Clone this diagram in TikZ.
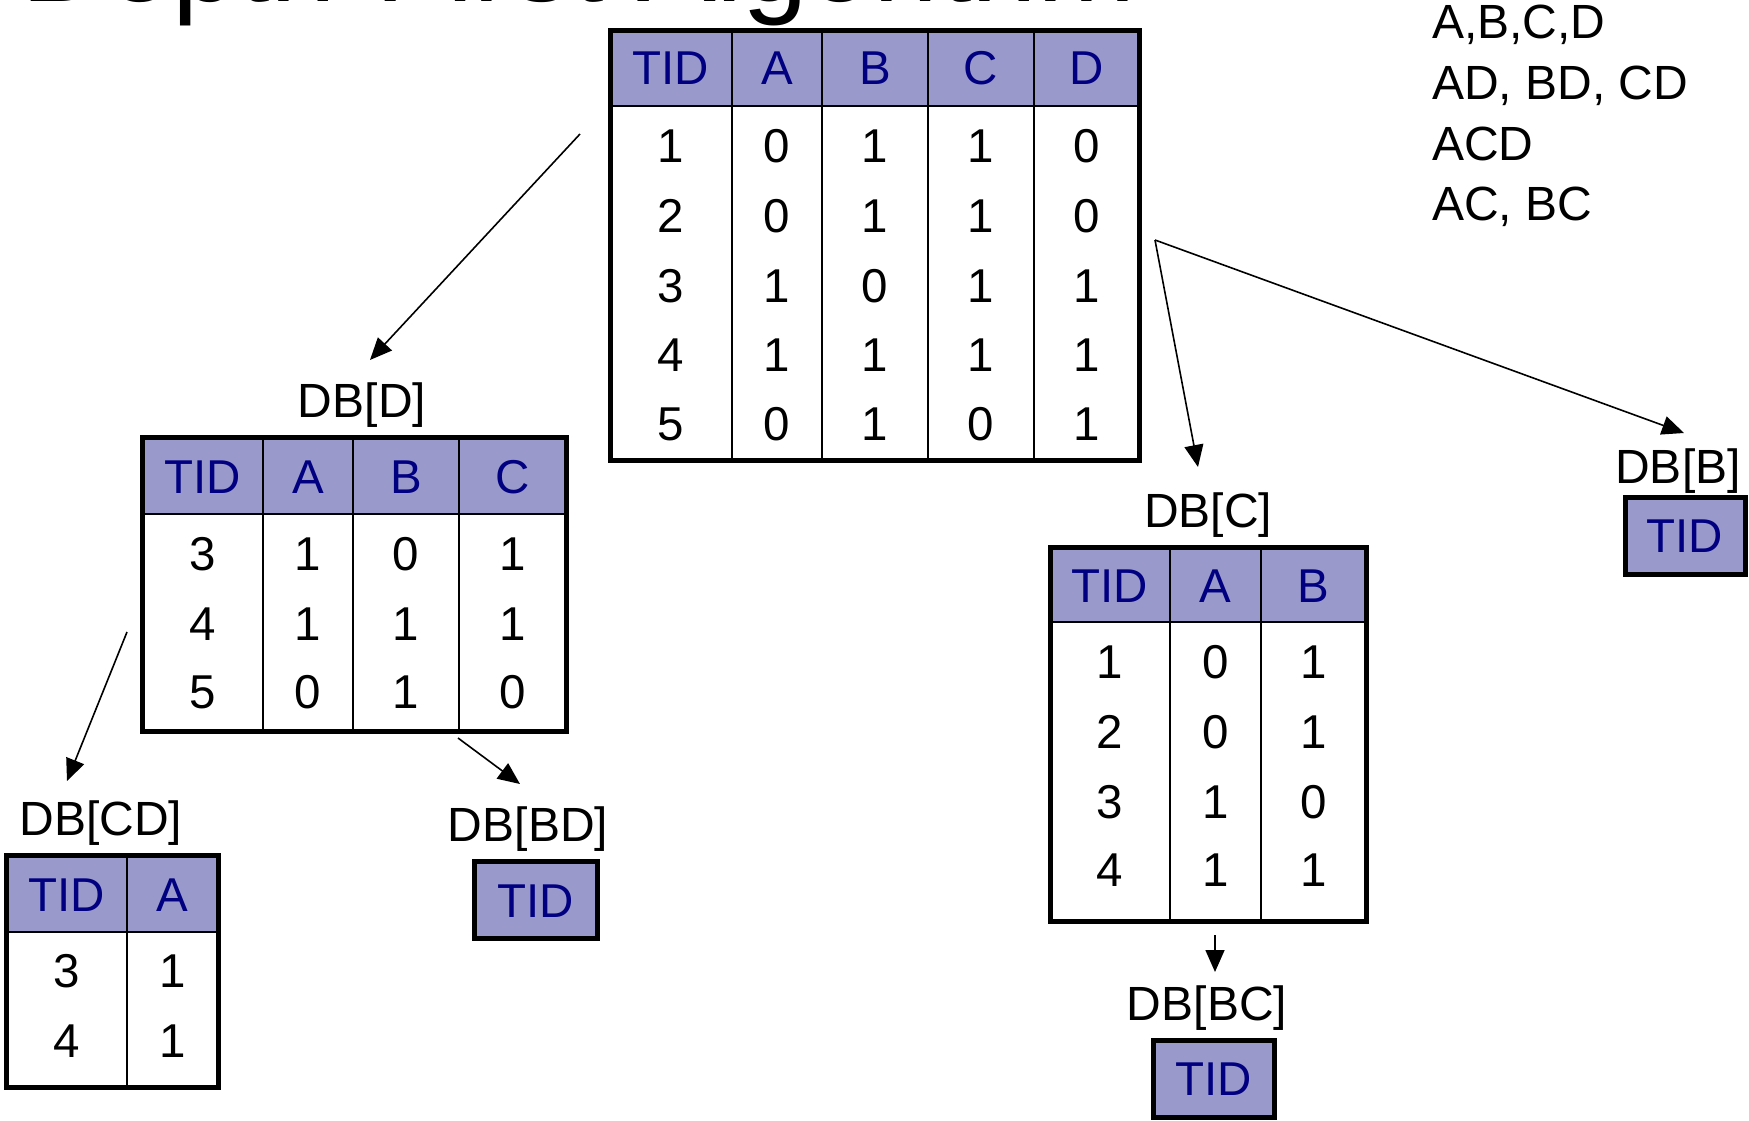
\documentclass[tikz,border=0pt]{standalone}
\usepackage{fontspec}
\setmainfont{Liberation Sans}
\usetikzlibrary{arrows.meta}
\definecolor{hdrfill}{RGB}{153,153,204}
\definecolor{hdrtext}{RGB}{0,0,128}
\newcommand{\cellfont}{\fontsize{47.5}{56}\selectfont}
\newcommand{\lblfont}{\fontsize{48}{57}\selectfont}
\newcommand{\titlefont}{\fontsize{118}{135}\selectfont}
\tikzset{
  outerframe/.style={draw=black, line width=5pt, inner sep=0pt, outer sep=0pt},
  tidbox/.style={draw=black, fill=hdrfill, line width=5pt, inner sep=0pt, outer sep=0pt},
  innerline/.style={line width=1.8pt},
  sepline/.style={line width=2.7pt},
  cell/.style={anchor=base, font=\cellfont, text=black, inner sep=0pt},
  hcell/.style={anchor=base, font=\cellfont, text=hdrtext, inner sep=0pt},
  lbl/.style={anchor=base, font=\lblfont, text=black, inner sep=0pt},
  itemtext/.style={anchor=base west, font=\lblfont, text=black, inner sep=0pt},
  arr/.style={-{Triangle[length=22pt,width=19pt]}, line width=1.6pt},
}
\begin{document}
\begin{tikzpicture}[x=1pt,y=-1pt]
\useasboundingbox (0,0) rectangle (1749,1120);
\clip (0,0) rectangle (1749,1120);

% title (cut off at the top, as in the reference)
\node[anchor=base west, font=\titlefont, inner sep=0pt] (title) at (21,1) {Depth-First Algorithm};

% itemsets list
\node[itemtext] (l1) at (1432,38) {A,B,C,D};
\node[itemtext] (l2) at (1432,99) {AD, BD, CD};
\node[itemtext] (l3) at (1432,160) {ACD};
\node[itemtext] (l4) at (1432,220) {AC, BC};

% ---------- main table ----------
\fill[hdrfill] (610,30) rectangle (1139,106);
\foreach \x in {732,822,928,1034} \draw[innerline] (\x,30) -- (\x,460);
\draw[sepline] (610,106) -- (1139,106);
\node[outerframe, minimum width=529pt, minimum height=430pt] (T0) at (874.5,245) {};
\foreach \x/\t [count=\i] in {671/TID,777/A,875/B,981/C,1086.5/D}
  \node[hcell] (m0-\i) at (\x,84) {\t};
\foreach \y/\a/\b/\c/\d/\e [count=\r] in {162/1/0/1/1/0,232/2/0/1/1/0,302/3/1/0/1/1,371/4/1/1/1/1,440/5/0/1/0/1}{
  \node[cell] (m\r-1) at (671,\y) {\a};
  \node[cell] (m\r-2) at (777,\y) {\b};
  \node[cell] (m\r-3) at (875,\y) {\c};
  \node[cell] (m\r-4) at (981,\y) {\d};
  \node[cell] (m\r-5) at (1086.5,\y) {\e};
}

% ---------- DB[D] ----------
\node[lbl] (LD) at (362,417) {DB[D]};
\fill[hdrfill] (142,437) rectangle (566,514);
\foreach \x in {263,353,459} \draw[innerline] (\x,437) -- (\x,731);
\draw[sepline] (142,514) -- (566,514);
\node[outerframe, minimum width=424pt, minimum height=294pt] (TD) at (354,584) {};
\foreach \x/\t [count=\i] in {202.5/TID,308/A,406/B,512.5/C}
  \node[hcell] (d0-\i) at (\x,493) {\t};
\foreach \y/\a/\b/\c/\d [count=\r] in {570/3/1/0/1,640/4/1/1/1,708/5/0/1/0}{
  \node[cell] (d\r-1) at (202.5,\y) {\a};
  \node[cell] (d\r-2) at (308,\y) {\b};
  \node[cell] (d\r-3) at (406,\y) {\c};
  \node[cell] (d\r-4) at (512.5,\y) {\d};
}

% ---------- DB[C] ----------
\node[lbl] (LC) at (1208,527) {DB[C]};
\fill[hdrfill] (1050,547) rectangle (1366,622);
\foreach \x in {1170,1261} \draw[innerline] (\x,547) -- (\x,921);
\draw[sepline] (1050,622) -- (1366,622);
\node[outerframe, minimum width=316pt, minimum height=374pt] (TC) at (1208,734) {};
\foreach \x/\t [count=\i] in {1110/TID,1215.5/A,1313.5/B}
  \node[hcell] (c0-\i) at (\x,602) {\t};
\foreach \y/\a/\b/\c [count=\r] in {678/1/0/1,748/2/0/1,818/3/1/0,886/4/1/1}{
  \node[cell] (c\r-1) at (1110,\y) {\a};
  \node[cell] (c\r-2) at (1215.5,\y) {\b};
  \node[cell] (c\r-3) at (1313.5,\y) {\c};
}

% ---------- DB[CD] ----------
\node[lbl] (LCD) at (101,835) {DB[CD]};
\fill[hdrfill] (6,855) rectangle (218,932);
\draw[innerline] (127,855) -- (127,1087);
\draw[sepline] (6,932) -- (218,932);
\node[outerframe, minimum width=212pt, minimum height=232pt] (TCD) at (112,971) {};
\node[hcell] (cd0-1) at (66.5,911) {TID};
\node[hcell] (cd0-2) at (172.5,911) {A};
\node[cell] (cd1-1) at (66.5,987) {3};
\node[cell] (cd1-2) at (172.5,987) {1};
\node[cell] (cd2-1) at (66.5,1057) {4};
\node[cell] (cd2-2) at (172.5,1057) {1};

% ---------- DB[BD] ----------
\node[lbl] (LBD) at (528,841) {DB[BD]};
\node[tidbox, minimum width=123pt, minimum height=77pt] (TBD) at (535.5,899.5) {};
\node[hcell] (bd0) at (535.5,917) {TID};

% ---------- DB[BC] ----------
\node[lbl] (LBC) at (1207,1020) {DB[BC]};
\node[tidbox, minimum width=121pt, minimum height=77pt] (TBC) at (1213.5,1078.5) {};
\node[hcell] (bc0) at (1213.5,1095) {TID};

% ---------- DB[B] ----------
\node[lbl] (LB) at (1678,483) {DB[B]};
\node[tidbox, minimum width=120pt, minimum height=77pt] (TB) at (1685,535.5) {};
\node[hcell] (b0) at (1685,552) {TID};

% ---------- arrows ----------
\coordinate (s1) at (580,134);  \coordinate (e1) at (370,360);
\coordinate (s2) at (1155,240); \coordinate (e2) at (1198,467);
\coordinate (e3) at (1684,433);
\coordinate (s4) at (127,632);  \coordinate (e4) at (67,781);
\coordinate (s5) at (458,738);  \coordinate (e5) at (520,784);
\coordinate (s6) at (1215,935); \coordinate (e6) at (1215,972);
\draw[arr] (s1) -- (e1);
\draw[arr] (s2) -- (e2);
\draw[arr] (s2) -- (e3);
\draw[arr] (s4) -- (e4);
\draw[arr] (s5) -- (e5);
\draw[arr] (s6) -- (e6);
\end{tikzpicture}
\end{document}
